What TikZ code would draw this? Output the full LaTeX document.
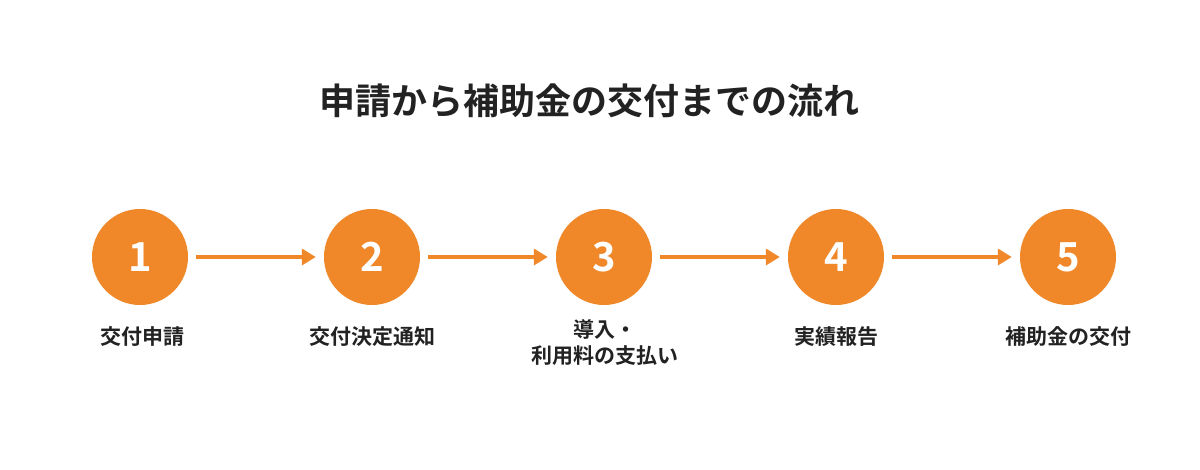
\documentclass[tikz,border=0pt]{standalone}
\usepackage{fontspec}
\usepackage{tikz}
\usetikzlibrary{arrows.meta,positioning}
\newfontfamily\jpfont{Noto Sans CJK JP}[BoldFont={Noto Sans CJK JP Bold}]
\definecolor{florange}{HTML}{F0882A}
\definecolor{fltext}{HTML}{222222}
\tikzset{
  st/.style   = {circle, fill=florange, minimum size=96pt, inner sep=0pt,
                 text=white, font=\jpfont\bfseries\fontsize{40}{40}\selectfont},
  ed/.style   = {-{Triangle[length=14pt,width=16pt]}, draw=florange, line width=4pt},
  lbl/.style  = {font=\jpfont\bfseries\fontsize{21}{26}\selectfont, text=fltext,
                 align=center, inner sep=0pt},
}
\begin{document}
\begin{tikzpicture}[x=1pt,y=-1pt]
  \useasboundingbox[fill=white] (0,0) rectangle (1200,470);
  % --- title
  \node[font=\jpfont\bfseries\fontsize{36}{36}\selectfont, text=fltext] (title)
    at (589,101) {申請から補助金の交付までの流れ};

  % --- steps
  \foreach \k in {1,...,5}{
    \node[st] (c\k) at ({140+232*(\k-1)},257) {\k};
  }
  \node[lbl] (lbl1) at (142,337) {交付申請};
  \node[lbl] (lbl2) at (372,337) {交付決定通知};
  \node[lbl] (lbl3) at (605,343) {導入・\\利用料の支払い};
  \node[lbl] (lbl4) at (836,337) {実績報告};
  \node[lbl] (lbl5) at (1068,337) {補助金の交付};

  % --- arrows
  \foreach \a/\b in {1/2, 2/3, 3/4, 4/5}{
    \draw[ed, shorten <=8pt, shorten >=8pt] (c\a) -- (c\b);
  }
\end{tikzpicture}
\end{document}
